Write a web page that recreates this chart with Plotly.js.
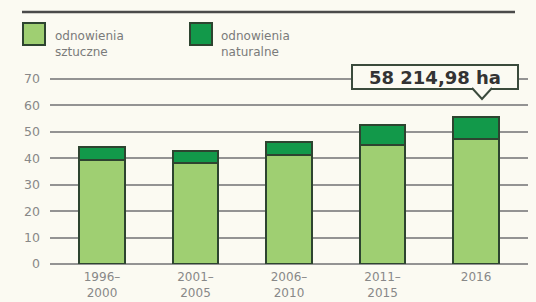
<!DOCTYPE html>
<html><head><meta charset="utf-8">
<script src="https://cdn.plot.ly/plotly-3.0.1.min.js"></script>
<style>html,body{margin:0;padding:0;background:#fbfaf2;}#c{width:536px;height:302px;}</style>
</head><body><div id="c"></div>
<script>
const categories = ["1996–<br>2000", "2001–<br>2005", "2006–<br>2010", "2011–<br>2015", "2016"];
const sztuczne = [39.4, 38.1, 41.3, 45.1, 47.2];
const naturalne = [4.8, 4.8, 5.0, 7.6, 8.4];
const seriesNames = ["odnowienia<br>sztuczne", "odnowienia<br>naturalne"];
const calloutText = "58 214,98 ha";
const yTicks = [0, 10, 20, 30, 40, 50, 60, 70];

const lightGreen = "#9fcf72", darkGreen = "#12994a", outline = "#2d4430";
const FONT = "DejaVu Sans, sans-serif";
const xIdx = categories.map((_, i) => i);

const traces = [
  {type: "bar", x: xIdx, y: sztuczne, name: seriesNames[0], marker: {color: lightGreen, line: {color: outline, width: 2}}, width: 0.49, showlegend: false, hoverinfo: "none"},
  {type: "bar", x: xIdx, y: naturalne, name: seriesNames[1], marker: {color: darkGreen, line: {color: outline, width: 2}}, width: 0.49, showlegend: false, hoverinfo: "none"}
];

const W = 536, H = 302, L = 50, R = 8, T = 78, B = 38;
const px = x => (x - L) / (W - L - R);
const py = y => (H - B - y) / (H - T - B);

const shapes = [
  {type: "line", xref: "paper", yref: "paper", x0: px(22), x1: px(515), y0: py(12), y1: py(12), line: {color: "#4a4a4a", width: 2.5}},
  {type: "rect", xref: "paper", yref: "paper", x0: px(23), x1: px(45), y0: py(23), y1: py(45), fillcolor: lightGreen, line: {color: outline, width: 2}},
  {type: "rect", xref: "paper", yref: "paper", x0: px(190), x1: px(212), y0: py(23), y1: py(45), fillcolor: darkGreen, line: {color: outline, width: 2}},
  {type: "rect", xref: "paper", yref: "paper", x0: px(352), x1: px(518), y0: py(65), y1: py(89), fillcolor: "#fbfaf2", line: {color: "#3a4a3c", width: 2}, layer: "above"},
  {type: "path", xref: "paper", yref: "paper", layer: "above",
   path: `M ${px(472)} ${py(88)} L ${px(482)} ${py(99)} L ${px(492)} ${py(88)}`,
   fillcolor: "#fbfaf2", line: {color: "#3a4a3c", width: 2}}
];

const annotations = [
  {xref: "paper", yref: "paper", x: px(53), y: py(27), xanchor: "left", yanchor: "top", showarrow: false, text: seriesNames[0], align: "left", font: {family: FONT, size: 12, color: "#7a7a7a"}},
  {xref: "paper", yref: "paper", x: px(219), y: py(27), xanchor: "left", yanchor: "top", showarrow: false, text: seriesNames[1], align: "left", font: {family: FONT, size: 12, color: "#7a7a7a"}},
  {xref: "paper", yref: "paper", x: px(435), y: py(77), xanchor: "center", yanchor: "middle", showarrow: false, text: "<b>" + calloutText + "</b>", font: {family: FONT, size: 18, color: "#333"}}
];

const layout = {
  width: W, height: H,
  margin: {l: L, r: R, t: T, b: B},
  paper_bgcolor: "#fbfaf2", plot_bgcolor: "#fbfaf2",
  barmode: "stack", bargap: 0.5,
  xaxis: {tickvals: xIdx, ticktext: categories, range: [-0.556, 4.556], showgrid: false, zeroline: false, showline: false, ticks: "",
          ticklabelstandoff: 4, tickfont: {family: FONT, size: 12, color: "#888"}, fixedrange: true},
  yaxis: {range: [0, 70.4], tickvals: yTicks, showgrid: true, gridcolor: "#939393", gridwidth: 2, zeroline: true, zerolinecolor: "#939393", zerolinewidth: 2,
          ticklabelstandoff: 9, tickfont: {family: FONT, size: 12.5, color: "#888"}, ticks: "", ticklen: 0, fixedrange: true},
  shapes: shapes, annotations: annotations, showlegend: false
};

Plotly.newPlot("c", traces, layout, {displayModeBar: false, staticPlot: true});
</script></body></html>
